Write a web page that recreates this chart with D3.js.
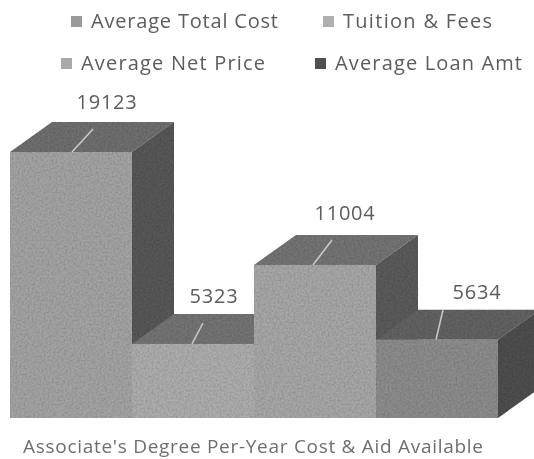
<!DOCTYPE html>
<html>
<head>
<meta charset="utf-8">
<script src="https://cdn.jsdelivr.net/npm/d3@7"></script>
<style>
  html, body { margin: 0; padding: 0; background: #fff; }
  svg { display: block; }
  text { font-family: "Open Sans", sans-serif; fill: #5c5c5c; }
</style>
</head>
<body>
<script>
var categories = ["Average Total Cost", "Tuition & Fees", "Average Net Price", "Average Loan Amt"];
var values = [19123, 5323, 11004, 5634];
var frontColors = ["#a4a4a4", "#adadad", "#a8a8a8", "#8d8d8d"];
var topColors = ["#707070", "#757575", "#747474", "#636363"];
var sideColors = ["#585858", "#5e5e5e", "#5c5c5c", "#505050"];
var legendColors = ["#9a9a9a", "#b0b0b0", "#aaaaaa", "#505050"];
var title = "Associate's Degree Per-Year Cost & Aid Available";

var width = 534;
var height = 459;
var depthX = 42;
var depthY = 30;

var svg = d3.select("body")
	.append("svg")
	.attr("width", width)
	.attr("height", height);

var defs = svg.append("defs");
var grain = defs.append("filter").attr("id", "grain")
	.attr("x", 0).attr("y", 0).attr("width", 1).attr("height", 1);
grain.append("feTurbulence")
	.attr("type", "fractalNoise").attr("baseFrequency", 0.5)
	.attr("numOctaves", 2).attr("seed", 4).attr("result", "n");
grain.append("feColorMatrix").attr("in", "n").attr("type", "matrix")
	.attr("values", "0 0 0 0 0  0 0 0 0 0  0 0 0 0 0  0.6 0 0 0 -0.2")
	.attr("result", "d");
grain.append("feComposite").attr("in", "d").attr("in2", "SourceAlpha").attr("operator", "in").attr("result", "c");
var merge = grain.append("feMerge");
merge.append("feMergeNode").attr("in", "SourceGraphic");
merge.append("feMergeNode").attr("in", "c");

// the scan is soft, text and leaders get a touch of blur
defs.append("filter").attr("id", "soft")
	.append("feGaussianBlur").attr("stdDeviation", 0.4);

defs.append("clipPath").attr("id", "page").append("rect")
	.attr("width", width).attr("height", height);

var x = d3.scaleBand().domain(categories).range([10, 498]);
var y = d3.scaleLinear().domain([0, 19123]).range([418, 152]);

// legend, two rows of two
var legendPos = [[71, 28], [323, 28], [61, 70], [315, 70]];
var legendWidths = [187, 149, 184, 187];
var legend = svg.selectAll(".legend")
	.data(categories)
	.enter()
	.append("g")
	.attr("class", "legend")
	.attr("filter", "url(#soft)")
	.attr("transform", function(d, i) { return "translate(" + legendPos[i][0] + "," + legendPos[i][1] + ")"; });

legend.append("rect")
	.attr("y", -12).attr("width", 11).attr("height", 11)
	.attr("fill", function(d, i) { return legendColors[i]; });

legend.append("text")
	.attr("x", 20)
	.attr("textLength", function(d, i) { return legendWidths[i]; })
	.attr("lengthAdjust", "spacing")
	.style("font-size", "20px")
	.text(function(d) { return d; });

// bars left to right, each one covers the side of the bar before it
var bars = svg.append("g").attr("clip-path", "url(#page)")
	.selectAll(".bar")
	.data(categories)
	.enter()
	.append("g")
	.attr("class", "bar")
	.attr("filter", "url(#grain)");

function poly(pts) { return "M" + pts.join("L") + "Z"; }

bars.append("path")
	.attr("fill", function(d, i) { return topColors[i]; })
	.attr("d", function(d, i) {
		var l = x(d), r = l + x.bandwidth(), t = y(values[i]);
		return poly([[l, t], [l + depthX, t - depthY], [r + depthX, t - depthY], [r, t]]);
	});

bars.append("path")
	.attr("fill", function(d, i) { return sideColors[i]; })
	.attr("d", function(d, i) {
		var r = x(d) + x.bandwidth(), t = y(values[i]);
		return poly([[r, t], [r + depthX, t - depthY], [r + depthX, y(0) - depthY], [r, y(0)]]);
	});

bars.append("rect")
	.attr("fill", function(d, i) { return frontColors[i]; })
	.attr("x", function(d) { return x(d); })
	.attr("y", function(d, i) { return y(values[i]); })
	.attr("width", x.bandwidth())
	.attr("height", function(d, i) { return y(0) - y(values[i]); });

// leader lines and value labels
var labelPos = [[107, 109], [214, 303], [345, 220], [477, 299]];
var leaderFoot = [62, 60, 59, 60];
var leaderTop = [[93, 129], [203, 323], [332, 240], [443, 310]];

svg.selectAll(".leader")
	.data(categories)
	.enter()
	.append("line")
	.attr("class", "leader")
	.attr("stroke", "#c8c8c8")
	.attr("stroke-width", 1.6)
	.attr("filter", "url(#soft)")
	.attr("x1", function(d, i) { return x(d) + leaderFoot[i]; })
	.attr("y1", function(d, i) { return y(values[i]); })
	.attr("x2", function(d, i) { return leaderTop[i][0]; })
	.attr("y2", function(d, i) { return leaderTop[i][1]; });

svg.selectAll(".value")
	.data(values)
	.enter()
	.append("text")
	.attr("class", "value")
	.attr("text-anchor", "middle")
	.attr("filter", "url(#soft)")
	.attr("x", function(d, i) { return labelPos[i][0]; })
	.attr("y", function(d, i) { return labelPos[i][1]; })
	.style("font-size", "20px")
	.style("letter-spacing", "0.8px")
	.text(function(d) { return d; });

svg.append("text")
	.attr("x", 23)
	.attr("y", 453)
	.attr("filter", "url(#soft)")
	.attr("textLength", 460)
	.attr("lengthAdjust", "spacing")
	.style("font-size", "19px")
	.style("fill", "#6e6e6e")
	.text(title);
</script>
</body>
</html>
